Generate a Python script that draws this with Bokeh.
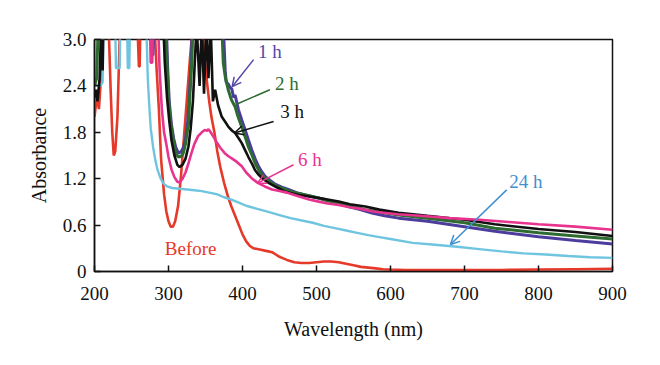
from bokeh.plotting import figure
from bokeh.models import Range1d, FixedTicker, CustomJSTickFormatter, Label, Arrow, OpenHead
from bokeh.embed import file_html
from bokeh.resources import INLINE

# ---------------- data ----------------
before_wl = [200, 203, 206, 208, 210, 215, 219, 222, 224, 226, 228, 231, 234, 236, 258, 260, 261, 262, 264,
             281, 284, 287, 290, 294, 297, 300, 303, 306, 309, 313, 317, 321, 325, 329, 333, 345, 349, 352,
             355, 358, 362, 366, 370, 375, 380, 385, 390, 395, 400, 405, 410, 415, 420, 425, 430, 435, 440,
             445, 450, 455, 460, 470, 480, 490, 500, 510, 520, 530, 540, 550, 560, 570, 580, 590, 600, 620,
             650, 700, 750, 800, 850, 900]
before_a = [2.0, 2.25, 2.1, 2.4, 3.2, 3.2, 3.2, 2.3, 1.8, 1.5, 1.55, 2.0, 3.0, 3.2, 3.2, 2.65, 2.65, 3.2, 3.2,
            3.2, 2.6, 2.1, 1.45, 1.0, 0.78, 0.65, 0.58, 0.58, 0.65, 0.85, 1.25, 1.75, 2.25, 2.75, 3.2, 3.2, 2.75, 2.45,
            2.2, 2.0, 1.8, 1.55, 1.35, 1.15, 0.98, 0.84, 0.72, 0.6, 0.48, 0.39, 0.33, 0.3, 0.29, 0.28, 0.27, 0.26, 0.25,
            0.22, 0.19, 0.17, 0.15, 0.12, 0.11, 0.11, 0.12, 0.13, 0.13, 0.12, 0.10, 0.08, 0.06, 0.05, 0.04, 0.03, 0.025, 0.02,
            0.02, 0.02, 0.02, 0.025, 0.03, 0.035]

h24_wl = [200, 201, 205, 208, 211, 212, 228, 229, 234, 235, 244, 245, 247, 248, 270, 272, 274, 276, 279, 282,
          285, 289, 293, 298, 305, 315, 325, 335, 345, 355, 365, 375, 385, 395, 405, 420, 435, 450, 465, 480,
          495, 510, 525, 540, 555, 570, 585, 600, 630, 660, 690, 720, 750, 780, 810, 840, 870, 900]
h24_a = [3.2, 2.4, 2.4, 2.4, 2.45, 3.2, 3.2, 2.63, 2.63, 3.2, 3.2, 2.63, 2.63, 3.2, 3.2, 2.5, 2.15, 1.85, 1.62, 1.45,
         1.32, 1.21, 1.14, 1.10, 1.08, 1.07, 1.06, 1.05, 1.04, 1.02, 1.0, 0.96, 0.93, 0.89, 0.85, 0.81, 0.77, 0.73, 0.69, 0.66,
         0.63, 0.59, 0.56, 0.53, 0.50, 0.47, 0.445, 0.42, 0.37, 0.345, 0.32, 0.29, 0.26, 0.235, 0.22, 0.20, 0.185, 0.176]

h6_wl = [200, 275, 276, 278, 279, 286, 288, 291, 294, 297, 300, 304, 308, 312, 315, 319, 323, 327, 331, 335,
         340, 345, 349, 352, 354, 357, 361, 365, 370, 376, 381, 386, 392, 399, 405, 412, 420, 430, 440, 450,
         460, 470, 480, 490, 500, 515, 530, 545, 560, 575, 590, 610, 640, 680, 720, 760, 800, 850, 900]
h6_a = [3.2, 3.2, 2.7, 2.7, 3.2, 3.2, 2.6, 2.1, 1.8, 1.65, 1.48, 1.32, 1.22, 1.16, 1.15, 1.20, 1.28, 1.40, 1.53, 1.65,
        1.75, 1.80, 1.83, 1.82, 1.84, 1.80, 1.74, 1.67, 1.60, 1.53, 1.49, 1.46, 1.42, 1.36, 1.28, 1.21, 1.15, 1.10, 1.06, 1.04,
        1.02, 0.99, 0.96, 0.93, 0.91, 0.88, 0.86, 0.83, 0.81, 0.78, 0.76, 0.74, 0.72, 0.69, 0.67, 0.64, 0.61, 0.58, 0.54]

h3_wl = [200, 202, 204, 207, 209, 210, 211, 212, 293, 295, 298, 301, 304, 308, 312, 315, 319, 323, 327, 330,
         333, 336, 338, 342, 345, 348, 351, 354, 357, 360, 363, 367, 372, 377, 381, 386, 390, 395, 399, 404,
         408, 413, 417, 422, 426, 433, 440, 450, 458, 467, 476, 490, 503, 515, 530, 545, 566, 585, 611, 650,
         700, 741, 800, 850, 900]
h3_a = [2.25, 2.35, 2.2, 2.5, 3.2, 3.2, 2.6, 3.2, 3.2, 2.7, 2.25, 1.95, 1.7, 1.5, 1.38, 1.35, 1.38, 1.46, 1.62, 1.85,
        2.2, 2.8, 3.2, 2.4, 3.2, 2.3, 3.2, 2.5, 3.2, 2.2, 2.35, 2.15, 2.0, 1.93, 1.87, 1.82, 1.79, 1.72, 1.66, 1.56,
        1.48, 1.39, 1.31, 1.25, 1.21, 1.16, 1.12, 1.07, 1.03, 1.01, 0.99, 0.97, 0.95, 0.93, 0.905, 0.87, 0.84, 0.80, 0.76, 0.72,
        0.67, 0.61, 0.55, 0.51, 0.46]

h2_wl = [200, 203, 205, 296, 298, 300, 302, 304.5, 307, 309, 311, 313.5, 317, 320, 323, 327, 329, 331.5, 333, 372,
         374, 377, 381, 385, 390, 394, 399, 404, 408, 413, 417, 422, 426, 433, 440, 449, 458, 467, 476, 490,
         503, 516, 530, 548, 566, 588, 611, 650, 700, 741, 800, 850, 900]
h2_a = [2.4, 2.5, 3.2, 3.2, 2.7, 2.26, 2.0, 1.83, 1.67, 1.57, 1.51, 1.48, 1.49, 1.53, 1.65, 1.91, 2.3, 2.69, 3.2, 3.2,
        2.7, 2.5, 2.34, 2.22, 2.13, 2.0, 1.87, 1.73, 1.61, 1.50, 1.40, 1.31, 1.25, 1.19, 1.14, 1.09, 1.06, 1.03, 1.01, 0.98,
        0.95, 0.91, 0.88, 0.84, 0.80, 0.765, 0.73, 0.69, 0.63, 0.56, 0.50, 0.46, 0.42]

h1_wl = [200, 276, 277, 279, 280, 297, 299, 301, 304, 307, 310, 313.5, 317, 320, 323, 326, 329, 331, 332, 374,
         376.6, 378, 381, 383, 385.6, 388, 390, 394.6, 399, 403.6, 408, 412.6, 417, 421.6, 426, 430.6, 437, 444, 453, 462,
         473, 484.7, 498, 511.7, 527, 543, 559, 575, 592, 611, 650, 700, 741, 800, 850, 900]
h1_a = [3.2, 3.2, 2.8, 2.8, 3.2, 3.2, 2.6, 2.2, 1.9, 1.72, 1.6, 1.53, 1.55, 1.6, 1.72, 1.95, 2.4, 2.8, 3.2, 3.2,
        2.6, 2.45, 2.42, 2.38, 2.36, 2.25, 2.28, 2.09, 1.96, 1.83, 1.70, 1.57, 1.46, 1.36, 1.29, 1.23, 1.18, 1.13, 1.09, 1.06,
        1.02, 0.99, 0.96, 0.93, 0.89, 0.84, 0.80, 0.755, 0.72, 0.69, 0.65, 0.58, 0.52, 0.45, 0.40, 0.356]

x_ticks = [200, 300, 400, 500, 600, 700, 800, 900]
y_ticks = [0, 0.6, 1.2, 1.8, 2.4, 3.0]

# ---------------- styling ----------------
FONT = "Liberation Serif"
C_BEFORE = "#e5392a"
C_24 = "#6fc5e0"
C_6 = "#e8338f"
C_3 = "#111111"
C_2 = "#2d6b30"
C_1 = "#4b3c9e"

p = figure(width=650, height=356, output_backend="svg", toolbar_location=None,
           x_range=Range1d(200, 900), y_range=Range1d(0, 3.0),
           min_border_left=94, min_border_right=38, min_border_top=39, min_border_bottom=85)

p.background_fill_color = "white"
p.border_fill_color = "white"
p.outline_line_color = "#111111"
p.outline_line_width = 1.5
p.xgrid.visible = False
p.ygrid.visible = False

p.line(before_wl, before_a, line_color=C_BEFORE, line_width=2.6)
p.line(h24_wl, h24_a, line_color=C_24, line_width=2.4)
p.line(h1_wl, h1_a, line_color=C_1, line_width=3.0)
p.line(h2_wl, h2_a, line_color=C_2, line_width=3.0)
p.line(h3_wl, h3_a, line_color=C_3, line_width=2.6)
p.line(h6_wl, h6_a, line_color=C_6, line_width=2.6)

for ax in (p.xaxis[0], p.yaxis[0]):
    ax.axis_line_color = "#111111"
    ax.axis_line_width = 1.5
    ax.major_tick_line_color = "#111111"
    ax.major_tick_line_width = 1.5
    ax.major_tick_in = 6
    ax.major_tick_out = 0
    ax.minor_tick_line_color = None
    ax.major_label_text_font = FONT
    ax.major_label_text_font_size = "19px"
    ax.major_label_text_color = "#111111"
    ax.axis_label_text_font = FONT
    ax.axis_label_text_font_size = "20px"
    ax.axis_label_text_font_style = "normal"
    ax.axis_label_text_color = "#111111"

p.xaxis.ticker = FixedTicker(ticks=x_ticks)
p.yaxis.ticker = FixedTicker(ticks=y_ticks)
p.yaxis.formatter = CustomJSTickFormatter(code="return tick == 0 ? '0' : tick.toFixed(1);")
p.xaxis.axis_label = "Wavelength (nm)"
p.yaxis.axis_label = "Absorbance"
p.xaxis.major_label_standoff = 15
p.yaxis.major_label_standoff = 8
p.xaxis.axis_label_standoff = 15
p.yaxis.axis_label_standoff = 10

def lab(x, y, t, c):
    p.add_layout(Label(x=x, y=y, text=t, text_color=c, text_font=FONT, text_font_size="19px",
                       text_align="center", text_baseline="middle"))

def arr(x0, y0, x1, y1, c, head=True):
    end = OpenHead(size=9, line_color=c, line_width=1.5) if head else None
    p.add_layout(Arrow(x_start=x0, y_start=y0, x_end=x1, y_end=y1, line_color=c, line_width=1.5, end=end))

lab(437, 2.84, "1 h", "#5646a8")
arr(415, 2.74, 386, 2.39, "#5646a8")
lab(460, 2.43, "2 h", C_2)
arr(437, 2.35, 391, 2.16, C_2, head=False)
lab(467, 2.07, "3 h", C_3)
arr(442, 1.94, 389, 1.79, C_3)
lab(491, 1.45, "6 h", C_6)
arr(469, 1.38, 420, 1.14, C_6)
lab(783, 1.165, "24 h", "#3f8fcf")
arr(757, 1.055, 681, 0.35, "#3f8fcf")
lab(330, 0.30, "Before", C_BEFORE)

open("out.html", "w").write(file_html(p, INLINE))
